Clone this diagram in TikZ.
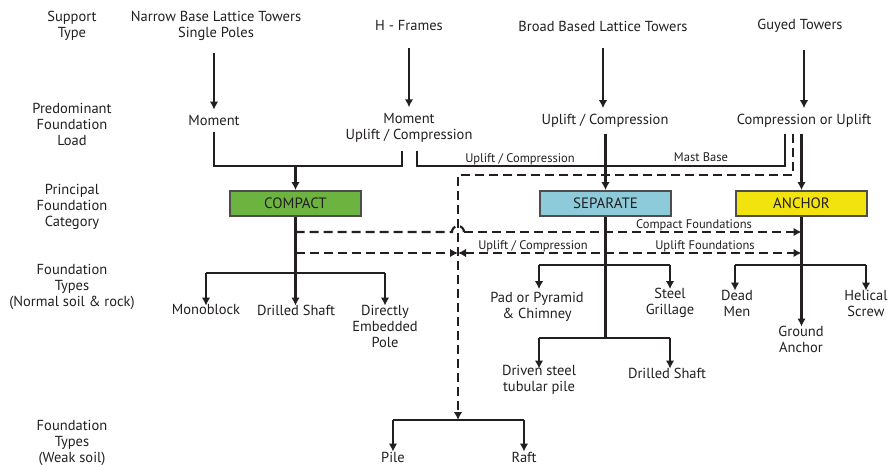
\documentclass[tikz,border=0pt]{standalone}
\usepackage{fontspec}
\setmainfont{PT Sans}
\usetikzlibrary{arrows.meta}
\definecolor{ink}{HTML}{231F20}
\definecolor{cgreen}{HTML}{6CB33F}
\definecolor{cblue}{HTML}{8DCBDA}
\definecolor{cyellow}{HTML}{F2E20D}
\tikzset{
  txt/.style={inner sep=0pt, align=center, font=\fontsize{14.5}{16}\selectfont, text=ink},
  small/.style={inner sep=0pt, align=center, font=\fontsize{12.5}{14}\selectfont, text=ink},
  cat/.style={draw=ink!80, line width=1.8pt, minimum width=131pt, minimum height=25pt, inner sep=0pt, font=\fontsize{15}{16}\selectfont, text=ink},
  line/.style={draw=ink, line width=2.2pt},
  arr/.style={line, -{Latex[length=8pt,width=8.5pt]}},
  dline/.style={line, dash pattern=on 9pt off 5pt},
  darr/.style={dline, -{Latex[length=8pt,width=8.5pt]}},
  ddarr/.style={dline, {Latex[length=8pt,width=8.5pt]}-{Latex[length=8pt,width=8.5pt]}}
}
\begin{document}
\begin{tikzpicture}[x=1pt,y=-1pt]
\useasboundingbox (0,0) rectangle (896,465);
% left labels
\node[txt] (lab1) at (72,26) {Support\\Type};
\node[txt] (lab2) at (72,124) {Predominant\\Foundation\\Load};
\node[txt] (lab3) at (72,207) {Principal\\Foundation\\Category};
\node[txt] (lab4) at (72,287) {Foundation\\Types\\(Normal soil \& rock)};
\node[txt] (lab5) at (72,443) {Foundation\\Types\\(Weak soil)};
% support types
\node[txt] (st1) at (216,26) {Narrow Base Lattice Towers\\Single Poles};
\node[txt] (st2) at (409,26) {H - Frames};
\node[txt] (st3) at (603,26) {Broad Based Lattice Towers};
\node[txt] (st4) at (800,26) {Guyed Towers};
% loads
\node[txt] (ld1) at (214,121) {Moment};
\node[txt] (ld2) at (409,128) {Moment\\Uplift / Compression};
\node[txt] (ld3) at (605,121) {Uplift / Compression};
\node[txt] (ld4) at (804,121) {Compression or Uplift};
% categories
\node[cat, fill=cgreen] (compact) at (295.5,203.5) {COMPACT};
\node[cat, fill=cblue] (separate) at (605.5,203.5) {SEPARATE};
\node[cat, fill=cyellow] (anchor) at (801.5,203.5) {ANCHOR};
% foundation types
\node[txt] (monoblock) at (206,310) {Monoblock};
\node[txt] (drilledA) at (296,310) {Drilled Shaft};
\node[txt] (embedded) at (385,326) {Directly\\Embedded\\Pole};
\node[txt] (pad) at (537,307) {Pad or Pyramid\\\& Chimney};
\node[txt] (steel) at (670,303) {Steel\\Grillage};
\node[txt] (driven) at (539,380) {Driven steel\\tubular pile};
\node[txt] (drilledB) at (667,373) {Drilled Shaft};
\node[txt] (dead) at (737,303) {Dead\\Men};
\node[txt] (helical) at (866,303) {Helical\\Screw};
\node[txt] (ground) at (801,339) {Ground\\Anchor};
\node[txt] (pile) at (393,457) {Pile};
\node[txt] (raft) at (524,457) {Raft};
% small labels
\node[small] (lbUCa) at (520,159) {Uplift / Compression};
\node[small] (lbMast) at (701,157) {Mast Base};
\node[small] (lbCF) at (694,225) {Compact Foundations};
\node[small] (lbUCb) at (533,246) {Uplift / Compression};
\node[small] (lbUF) at (705,246) {Uplift Foundations};
% junction coordinates
\coordinate (m1) at (214,166);
\coordinate (m2) at (402,166);
\coordinate (mc) at (295.5,166);
\coordinate (h1) at (417,166);
\coordinate (h2) at (785,166);
\coordinate (g1) at (793,175);
\coordinate (g2) at (458,175);
\coordinate (w0) at (458,420);
\coordinate (wl) at (393,420);
\coordinate (wr) at (524,420);
\coordinate (c1) at (295.5,232);
\coordinate (c2) at (452,232);
\coordinate (c3) at (801.5,232);
\coordinate (u1) at (295.5,253);
\coordinate (u2) at (458,253);
\coordinate (u3) at (801.5,253);
\coordinate (ca) at (295.5,273);
\coordinate (cl) at (206,273);
\coordinate (cr) at (385,273);
\coordinate (sl) at (539,265);
\coordinate (sr) at (670,265);
\coordinate (sb) at (605.5,338);
\coordinate (sbl) at (539,338);
\coordinate (sbr) at (670,338);
\coordinate (al) at (735,265);
\coordinate (ar) at (866,265);
% top arrows
\draw[arr, shorten <=12pt, shorten >=6pt] (st1.south -| ld1) -- (ld1.north);
\draw[arr, shorten <=17pt, shorten >=6pt] (st2.south) -- (ld2.north);
\draw[arr, shorten <=17pt, shorten >=6pt] (st3.south) -- (st3.south |- ld3.north);
\draw[arr, shorten <=17pt, shorten >=6pt] (st4.south -| ld4.north) -- (ld4.north);
% load connectors
\draw[line, shorten <=6pt] (ld1.south) -- (m1) -- (m2) -- ([yshift=-8pt]ld2.south -| m2);
\draw[arr] (mc) -- (compact.north);
\draw[line] ([yshift=-8pt]ld2.south -| h1) -- (h1) -- (h2) -- ([yshift=-6pt]ld4.south -| h2);
\draw[darr] ([yshift=-6pt]ld4.south -| g1) -- (g1) -- (g2) -- (w0);
\draw[arr, shorten <=6pt] (ld3.south -| separate.north) -- (separate.north);
\draw[arr] ([yshift=-6pt]ld4.south -| anchor.north) -- (anchor.north);
% weak soil
\draw[line] (wl) -- (wr);
\draw[arr] (wl) -- (pile.north);
\draw[arr] (wr) -- (raft.north);
% compact
\draw[line] (compact.south) -- (ca);
\draw[line] (cl) -- (cr);
\draw[arr] (cl) -- ([yshift=-1pt]cl |- monoblock.north) ;
\draw[arr] (ca) -- ([yshift=-1pt]ca |- drilledA.north);
\draw[arr] (cr) -- ([yshift=-1pt]cr |- drilledA.north);
\draw[dline] (c1) -- (c2) arc (180:360:6);
\draw[darr] ([xshift=12pt]c2) -- (c3);
\draw[darr] (u1) -- (u2);
\draw[ddarr] (u2) -- (u3);
% separate
\draw[line] (separate.south) -- (sb);
\draw[line] (sl) -- (sr);
\draw[arr] (sl) -- ([yshift=-1pt]sl |- steel.north);
\draw[arr] (sr) -- ([yshift=-1pt]sr |- steel.north);
\draw[line] (sbl) -- (sbr);
\draw[arr] (sbl) -- ([yshift=-1pt]sbl |- drilledB.north);
\draw[arr] (sbr) -- ([yshift=-1pt]sbr |- drilledB.north);
% anchor
\draw[arr] (anchor.south) -- ([yshift=-1pt]anchor.south |- ground.north);
\draw[line] (al) -- (ar);
\draw[arr] (al) -- ([yshift=-1pt]al |- dead.north);
\draw[arr] (ar) -- ([yshift=-1pt]ar |- helical.north);
\end{tikzpicture}
\end{document}
